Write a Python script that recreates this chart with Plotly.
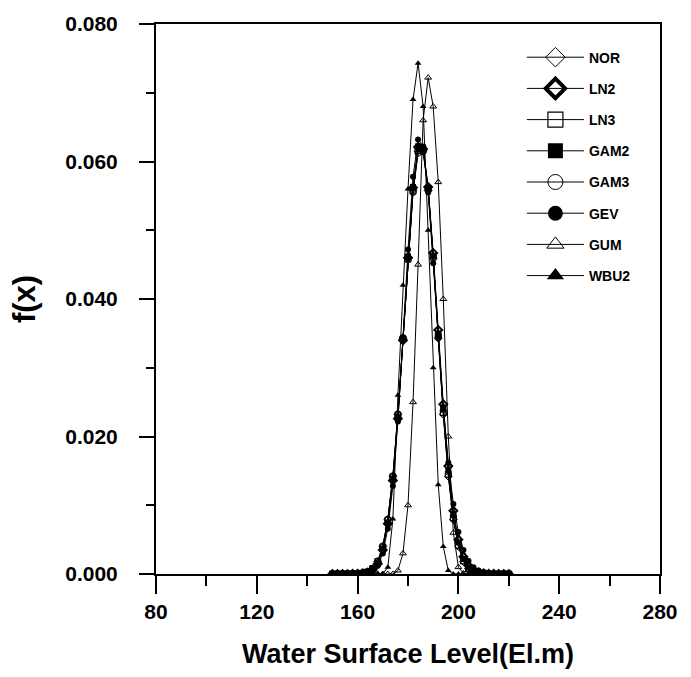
import plotly.graph_objects as go

# Water surface level grid (El.m)
X = [150,
     152, 154, 156, 158, 160, 162, 164, 166, 168, 170,
     172, 174, 176, 178, 180, 182, 184, 186, 188, 190,
     192, 194, 196, 198, 200, 202, 204, 206, 208, 210,
     212, 214, 216, 218,
     220]

NOR = [0,
       0.0, 0.0, 0.0, 0.00001, 0.00003, 0.0001, 0.0003, 0.0008, 0.0018, 0.0040,
       0.0079, 0.0142, 0.0232, 0.0343, 0.0459, 0.0558, 0.0615, 0.0615, 0.0558, 0.0459,
       0.0343, 0.0232, 0.0142, 0.0079, 0.0040, 0.0018, 0.0008, 0.0003, 0.0001, 0.00003,
       0.00001, 0.0, 0.0, 0.0,
       0]

LN2 = [0,
       0.0, 0.0, 0.0, 0.00001, 0.00002, 0.0001, 0.0002, 0.0006, 0.0015, 0.0035,
       0.0073, 0.0136, 0.0226, 0.0340, 0.0460, 0.0562, 0.0621, 0.0618, 0.0563, 0.0467,
       0.0355, 0.0247, 0.0157, 0.0092, 0.0050, 0.0025, 0.0012, 0.0005, 0.0002, 0.0001,
       0.00003, 0.00001, 0.0, 0.0,
       0]

LN3 = [0,
       0.0, 0.0, 0.00001, 0.00001, 0.00003, 0.0001, 0.0003, 0.0008, 0.0018, 0.0039,
       0.0078, 0.0141, 0.0231, 0.0342, 0.0458, 0.0557, 0.0616, 0.0617, 0.0560, 0.0461,
       0.0346, 0.0235, 0.0145, 0.0082, 0.0042, 0.0019, 0.0008, 0.0003, 0.0001, 0.00003,
       0.00001, 0.0, 0.0, 0.0,
       0]

GAM2 = [0,
        0.0, 0.0, 0.0, 0.00001, 0.00003, 0.0001, 0.0003, 0.0007, 0.0016, 0.0037,
        0.0075, 0.0139, 0.0229, 0.0343, 0.0462, 0.0563, 0.0622, 0.0620, 0.0561, 0.0463,
        0.0350, 0.0240, 0.0151, 0.0087, 0.0046, 0.0022, 0.0010, 0.0004, 0.0002, 0.00005,
        0.00002, 0.0, 0.0, 0.0,
        0]

GAM3 = [0,
        0.0, 0.0, 0.00001, 0.00001, 0.00004, 0.0001, 0.0003, 0.0008, 0.0019, 0.0041,
        0.0080, 0.0143, 0.0233, 0.0344, 0.0458, 0.0555, 0.0612, 0.0614, 0.0560, 0.0462,
        0.0345, 0.0234, 0.0144, 0.0080, 0.0041, 0.0019, 0.0008, 0.0003, 0.0001, 0.00003,
        0.00001, 0.0, 0.0, 0.0,
        0]

GEV = [0,
       0.0, 0.0, 0.0, 0.0, 0.0, 0.00003, 0.0001, 0.0004, 0.0012, 0.0030,
       0.0066, 0.0128, 0.0222, 0.0344, 0.0472, 0.0578, 0.0632, 0.0622, 0.0555, 0.0452,
       0.0343, 0.0243, 0.0162, 0.0102, 0.0061, 0.0035, 0.0019, 0.0010, 0.0005, 0.0003,
       0.0001, 0.00005, 0.00002, 0.00001,
       0]

GUM = [0,
       0.0, 0.0, 0.0, 0.0, 0.0, 0.0, 0.0, 0.0, 0.0, 0.0,
       0.0, 0.0, 0.0005, 0.0030, 0.0100, 0.0250, 0.0450, 0.0660, 0.0722, 0.0680,
       0.0570, 0.0400, 0.0200, 0.0060, 0.0010, 0.0001, 0.0, 0.0, 0.0, 0.0,
       0.0, 0.0, 0.0, 0.0,
       0]

WBU2 = [0,
        0.0, 0.0, 0.0, 0.0, 0.0, 0.0, 0.0, 0.0, 0.0, 0.0,
        0.0010, 0.0080, 0.0260, 0.0420, 0.0560, 0.0690, 0.0743, 0.0680, 0.0500, 0.0300,
        0.0130, 0.0040, 0.0005, 0.0, 0.0, 0.0, 0.0, 0.0, 0.0, 0.0,
        0.0, 0.0, 0.0, 0.0,
        0]

NAMES = ["NOR", "LN2", "LN3", "GAM2", "GAM3", "GEV", "GUM", "WBU2"]
SERIES = [NOR, LN2, LN3, GAM2, GAM3, GEV, GUM, WBU2]
SYMBOLS = ["diamond-open", "diamond-open", "square-open", "square",
           "circle-open", "circle", "triangle-up-open", "triangle-up"]
SMALL_LW = [1, 2, 1, 0, 1, 0, 1, 0]
BIG_LW = [1, 4, 1.2, 0, 1, 0, 1, 0]

FONT = "Liberation Sans"

fig = go.Figure()

for name, ys, sym, lw in zip(NAMES, SERIES, SYMBOLS, SMALL_LW):
    fig.add_trace(go.Scatter(
        x=X, y=ys, mode="lines+markers", name=name, showlegend=False,
        line=dict(color="black", width=1),
        marker=dict(symbol=sym, size=6, color="black",
                    line=dict(color="black", width=lw)),
    ))

# legend entries (large symbols as in the original key)
for i, (name, sym, lw) in enumerate(zip(NAMES, SYMBOLS, BIG_LW)):
    fig.add_trace(go.Scatter(
        x=[None], y=[None], mode="lines+markers", name=name,
        legendgroup="g%d" % i,
        line=dict(color="black", width=1),
        marker=dict(symbol=sym, size=15, color="black",
                    line=dict(color="black", width=lw)),
    ))

fig.update_layout(
    width=691, height=677,
    margin=dict(l=156, r=31, t=15, b=103),
    paper_bgcolor="white", plot_bgcolor="white",
    font=dict(family=FONT, color="black"),
    showlegend=True,
    legend=dict(
        x=0.726, y=0.968, xanchor="left", yanchor="top",
        bgcolor="rgba(0,0,0,0)", borderwidth=0,
        font=dict(family=FONT, size=14, color="black", weight="bold"),
        tracegroupgap=10, itemwidth=57,
    ),
    xaxis=dict(
        range=[80, 280], dtick=40, tick0=80,
        showgrid=False, zeroline=False,
        showline=True, linecolor="black", linewidth=2, mirror=True,
        ticks="outside", ticklen=18, tickwidth=2, tickcolor="black",
        minor=dict(dtick=20, ticks="outside", ticklen=10, tickwidth=2,
                   tickcolor="black", showgrid=False),
        tickfont=dict(family=FONT, size=21, color="black", weight="bold"),
        title=dict(text="Water Surface Level(El.m)", standoff=22,
                   font=dict(family=FONT, size=27, color="black", weight="bold")),
    ),
    yaxis=dict(
        range=[0, 0.080], dtick=0.02, tick0=0, tickformat=".3f",
        showgrid=False, zeroline=False,
        showline=True, linecolor="black", linewidth=2, mirror=True,
        ticks="outside", ticklen=15, tickwidth=2, tickcolor="black",
        ticklabelstandoff=17,
        minor=dict(dtick=0.01, ticks="outside", ticklen=8, tickwidth=2,
                   tickcolor="black", showgrid=False),
        tickfont=dict(family=FONT, size=21, color="black", weight="bold"),
        title=dict(text="f(x)", standoff=20,
                   font=dict(family=FONT, size=31, color="black", weight="bold")),
    ),
)

fig.write_html("out.html")
